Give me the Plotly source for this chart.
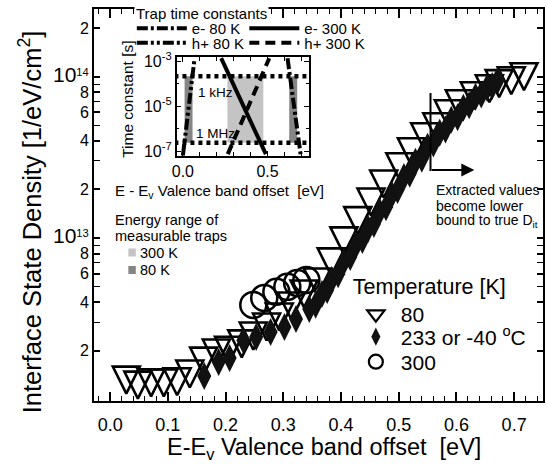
import plotly.graph_objects as go

# ---------------- data ----------------
# 80 K (open down-triangles)
x80 = [0.028, 0.048, 0.071, 0.093, 0.116, 0.138, 0.162, 0.184, 0.205, 0.228, 0.248,
       0.271, 0.293, 0.314, 0.336, 0.359, 0.383, 0.405, 0.429, 0.452, 0.474, 0.502,
       0.522, 0.545, 0.566, 0.586, 0.605, 0.631, 0.657, 0.674, 0.695, 0.717]
y80 = [1.31e12, 1.22e12, 1.26e12, 1.26e12, 1.28e12, 1.43e12, 1.72e12, 1.93e12, 2.01e12,
       2.20e12, 2.46e12, 2.80e12, 3.23e12, 3.78e12, 4.49e12, 5.33e12, 7.10e12, 9.58e12,
       1.28e13, 1.67e13, 2.16e13, 2.76e13, 3.42e13, 4.24e13, 4.89e13, 5.89e13, 6.79e13,
       7.62e13, 8.42e13, 9.06e13, 9.44e13, 1.00e14]
# 233 K (filled diamonds)
x233 = [0.163, 0.188, 0.207, 0.231, 0.253, 0.278, 0.302, 0.322, 0.345, 0.356, 0.367,
        0.376, 0.384, 0.395, 0.405, 0.416, 0.426, 0.437, 0.447, 0.457, 0.467, 0.478,
        0.488, 0.498, 0.509, 0.519, 0.529, 0.540, 0.550, 0.560, 0.571, 0.581, 0.591,
        0.602, 0.612, 0.622, 0.633, 0.643, 0.653, 0.662, 0.672]
y233 = [1.39e12, 1.70e12, 1.80e12, 2.32e12, 2.43e12, 2.61e12, 2.80e12, 3.14e12, 3.62e12,
        3.85e12, 4.49e12, 4.75e12, 5.48e12, 5.95e12, 7.10e12, 7.60e12, 9.05e12, 9.70e12,
        1.14e13, 1.22e13, 1.45e13, 1.55e13, 1.85e13, 1.98e13, 2.39e13, 2.50e13, 2.97e13,
        3.10e13, 3.67e13, 3.85e13, 4.49e13, 4.70e13, 5.41e13, 5.60e13, 6.42e13, 6.65e13,
        7.51e13, 7.75e13, 8.55e13, 8.75e13, 9.57e13]
# 300 K (open circles)
x300 = [0.248, 0.267, 0.288, 0.307, 0.324, 0.340]
y300 = [3.84e12, 4.24e12, 4.63e12, 4.97e12, 5.25e12, 5.48e12]

# inset: trap time constants (two end points per line)
e80_x = [0.618, 0.696];  e80_y = [1.4e-3, 6.5e-8]
h80_x = [0.000, 0.069];  h80_y = [6.5e-8, 1.4e-3]
e300_x = [0.226, 0.490]; e300_y = [1.4e-3, 7.5e-8]
h300_x = [0.265, 0.510]; h300_y = [7.5e-8, 1.4e-3]
# measurement window limits (1 kHz and 1 MHz)
tau_khz = 2.2e-4
tau_mhz = 2.4e-7
# energy ranges of measurable traps
range300 = [0.263, 0.475]
range80a = [0.010, 0.057]
range80b = [0.628, 0.675]

main_xticks = [0.0, 0.1, 0.2, 0.3, 0.4, 0.5, 0.6, 0.7]
main_xlabels = ["0.0", "0.1", "0.2", "0.3", "0.4", "0.5", "0.6", "0.7"]
dec = "<span style='font-size:21px'>10</span>"
main_yticks = [2e12, 4e12, 6e12, 8e12, 1e13, 2e13, 4e13, 6e13, 8e13, 1e14, 2e14]
main_ylabels = ["2", "4", "6", "8", dec + "<sup>13</sup>", "2", "4", "6", "8", dec + "<sup>14</sup>", "2"]
main_yminor = [3e12, 5e12, 7e12, 9e12, 3e13, 5e13, 7e13, 9e13]
inset_yticks = [1e-3, 1e-5, 1e-7]
inset_ylabels = ["10<sup>-3</sup>", "10<sup>-5</sup>", "10<sup>-7</sup>"]

FONT = "Liberation Sans, Arial, Helvetica, sans-serif"
W, H = 547, 464
ML, MR, MT, MB = 94, 2, 9, 63
PW, PH = W - ML - MR, H - MT - MB


def px(xp):
    return (xp - ML) / PW


def py(yp):
    return (H - MB - yp) / PH


LIGHT, DARK = "#c4c4c4", "#858585"

fig = go.Figure()

# ---------------- inset (gray windows, dotted limits, lines) ----------------


def rect(xr):
    return [xr[0], xr[1], xr[1], xr[0], xr[0]], [tau_mhz, tau_mhz, tau_khz, tau_khz, tau_mhz]


for xr, col in [(range300, LIGHT), (range80a, DARK), (range80b, DARK)]:
    rx, ry = rect(xr)
    fig.add_trace(go.Scatter(x=rx, y=ry, xaxis="x2", yaxis="y2", mode="lines", fill="toself",
                             fillcolor=col, line=dict(width=0), showlegend=False, hoverinfo="skip"))

for tau in [tau_khz, tau_mhz]:
    fig.add_trace(go.Scatter(x=[-0.05, 0.8], y=[tau, tau], xaxis="x2", yaxis="y2", mode="lines",
                             line=dict(color="black", width=4.5, dash="4px,4px"),
                             showlegend=False, hoverinfo="skip"))

DD = "11px,3px,3px,3px"
DDD = "11px,3px,3px,3px,3px,3px"
fig.add_trace(go.Scatter(x=e80_x, y=e80_y, xaxis="x2", yaxis="y2", mode="lines", name="e- 80 K",
                         legend="legend2", line=dict(color="black", width=4, dash=DD)))
fig.add_trace(go.Scatter(x=e300_x, y=e300_y, xaxis="x2", yaxis="y2", mode="lines", name="e- 300 K",
                         legend="legend3", line=dict(color="black", width=4)))
fig.add_trace(go.Scatter(x=h80_x, y=h80_y, xaxis="x2", yaxis="y2", mode="lines", name="h+ 80 K",
                         legend="legend4", line=dict(color="black", width=4, dash=DDD)))
fig.add_trace(go.Scatter(x=h300_x, y=h300_y, xaxis="x2", yaxis="y2", mode="lines", name="h+ 300 K",
                         legend="legend5", line=dict(color="black", width=4, dash="10px,6px")))

# ---------------- main data ----------------
fig.add_trace(go.Scatter(x=x80, y=y80, mode="markers", name="80", showlegend=False,
                         marker=dict(symbol="arrow-down-open", size=27, standoff=13.5, color="black",
                                     line=dict(width=2.6, color="black"))))
fig.add_trace(go.Scatter(x=x300, y=y300, mode="markers", name="300", showlegend=False,
                         marker=dict(symbol="circle-open", size=26, color="black",
                                     line=dict(width=2.5))))
fig.add_trace(go.Scatter(x=x233, y=y233, mode="markers", name="233 or -40 <sup>o</sup>C",
                         showlegend=False,
                         marker=dict(symbol="diamond-tall", size=20, color="#111111",
                                     line=dict(width=0))))

# legend entries (small symbols as in the original key)
fig.add_trace(go.Scatter(x=[None], y=[None], mode="markers", name="80", legend="legend",
                         marker=dict(symbol="triangle-down-open", size=15, color="black",
                                     line=dict(width=2.2))))
fig.add_trace(go.Scatter(x=[None], y=[None], mode="markers", name="233 or -40 <sup>o</sup>C",
                         legend="legend6",
                         marker=dict(symbol="diamond-tall", size=13, color="#111111", line=dict(width=0))))
fig.add_trace(go.Scatter(x=[None], y=[None], mode="markers", name="300", legend="legend7",
                         marker=dict(symbol="circle-open", size=14, color="black", line=dict(width=2.2))))

axis_common = dict(showline=True, linecolor="black", ticks="inside", tickcolor="black",
                   showgrid=False, zeroline=False)

row_legend = dict(xanchor="left", yanchor="middle", bgcolor="rgba(0,0,0,0)",
                  orientation="h", font=dict(size=15), itemwidth=50)
key_legend = dict(xanchor="left", yanchor="middle", bgcolor="rgba(0,0,0,0)",
                  font=dict(size=21), itemwidth=40)

fig.update_layout(
    width=W, height=H, margin=dict(l=ML, r=MR, t=MT, b=MB),
    paper_bgcolor="white", plot_bgcolor="white",
    font=dict(family=FONT, color="black", size=16),
    xaxis=dict(**axis_common, domain=[0, 1], range=[-0.028, 0.75], linewidth=2, mirror="ticks",
               tickvals=main_xticks, ticktext=main_xlabels, ticklen=9, tickwidth=1.5,
               tickfont=dict(size=18), ticklabelstandoff=6,
               minor=dict(ticks="inside", dtick=0.02, ticklen=5, tickwidth=1.2, tickcolor="black")),
    yaxis=dict(**axis_common, domain=[0, 1], type="log", range=[11.988, 14.42], linewidth=2,
               mirror="ticks", tickvals=main_yticks, ticktext=main_ylabels, ticklen=6, tickwidth=1.5,
               tickfont=dict(size=16),
               minor=dict(ticks="inside", tickvals=main_yminor, ticklen=6, tickwidth=1.2,
                          tickcolor="black")),
    yaxis3=dict(overlaying="y", anchor="x", side="left", type="log", range=[11.988, 14.42],
                tickvals=[1e12, 1e13, 1e14], showticklabels=False, ticks="inside", ticklen=11,
                tickwidth=1.5, tickcolor="black", mirror="ticks", showline=False, showgrid=False,
                zeroline=False),
    xaxis2=dict(**axis_common, domain=[px(177), px(310)], anchor="y2", range=[-0.037, 0.745],
                linewidth=1.5, mirror="ticks", tickvals=[0.0, 0.5], ticktext=["0.0", "0.5"],
                ticklen=5, tickwidth=1.2, tickfont=dict(size=16),
                minor=dict(ticks="inside", dtick=0.1, ticklen=4, tickwidth=1, tickcolor="black")),
    yaxis2=dict(**axis_common, domain=[py(156), py(57)], anchor="x2", type="log", range=[-7.21, -2.80],
                linewidth=1.5, mirror="ticks", tickvals=inset_yticks, ticktext=inset_ylabels,
                ticklen=5, tickwidth=1.2, tickfont=dict(size=16),
                minor=dict(ticks="inside", tickvals=[1e-4, 1e-6], ticklen=3, tickwidth=1,
                           tickcolor="black")),
    legend=dict(x=px(352), y=py(266), xanchor="left", yanchor="top", bgcolor="rgba(0,0,0,0)",
                font=dict(size=21), title=dict(text="Temperature [K]", font=dict(size=21.5)),
                itemwidth=40),
    legend6=dict(x=px(352), y=py(337), **key_legend),
    legend7=dict(x=px(352), y=py(362), **key_legend),
    legend2=dict(x=px(132), y=py(28.5), **row_legend),
    legend3=dict(x=px(245), y=py(28.5), **row_legend),
    legend4=dict(x=px(132), y=py(43), **row_legend),
    legend5=dict(x=px(245), y=py(43), **row_legend),
)

ann = []


def label(text, xp, yp, size, xanchor="left", **kw):
    ann.append(dict(text=text, x=px(xp), y=py(yp), xref="paper", yref="paper", xanchor=xanchor,
                    yanchor="middle", showarrow=False, font=dict(size=size), **kw))


# axis titles
label("Interface State Density [1/eV/cm<sup>2</sup>]", 30, 222, 25.5, xanchor="center", textangle=-90)
label("E-E<sub>v</sub> Valence band offset &nbsp;[eV]", 325, 448, 23.5, xanchor="center")
# inset texts
label("Trap time constants", 134, 13, 15, bgcolor="white")
label("1 kHz", 196, 92, 13.5)
label("1 MHz", 194, 133, 13.5)
label("E - E<sub>v</sub> Valence band offset &nbsp;[eV]", 220, 191, 15, xanchor="center")
label("Time constant [s]", 128, 99, 15.5, xanchor="center", textangle=-90)
# energy range key
label("Energy range of", 113, 220, 14.5)
label("measurable traps", 113, 236.5, 14.5)
label("300 K", 138, 252.5, 14.5)
label("80 K", 138, 270, 14.5)
# extracted values note
for txt, yy in [("Extracted values", 190), ("become lower", 206), ("bound to true D<sub>it</sub>", 221)]:
    label(txt, 436, yy, 14)
# elbow arrow
ann.append(dict(text="", x=px(476), y=py(170), ax=-44, ay=0, xref="paper", yref="paper",
                showarrow=True, arrowhead=2, arrowsize=1.3, arrowwidth=2, arrowcolor="black"))
fig.update_layout(annotations=ann)
fig.add_shape(type="line", xref="paper", yref="paper", x0=px(432), x1=px(432), y0=py(93), y1=py(171),
              line=dict(color="black", width=2))
# energy range key swatches
for (y0, y1), col in [((248.5, 256.5), LIGHT), ((266, 274), DARK)]:
    fig.add_shape(type="rect", xref="paper", yref="paper", x0=px(128.5), x1=px(136),
                  y0=py(y1), y1=py(y0), fillcolor=col, line=dict(width=0))

fig.write_html("out.html")
